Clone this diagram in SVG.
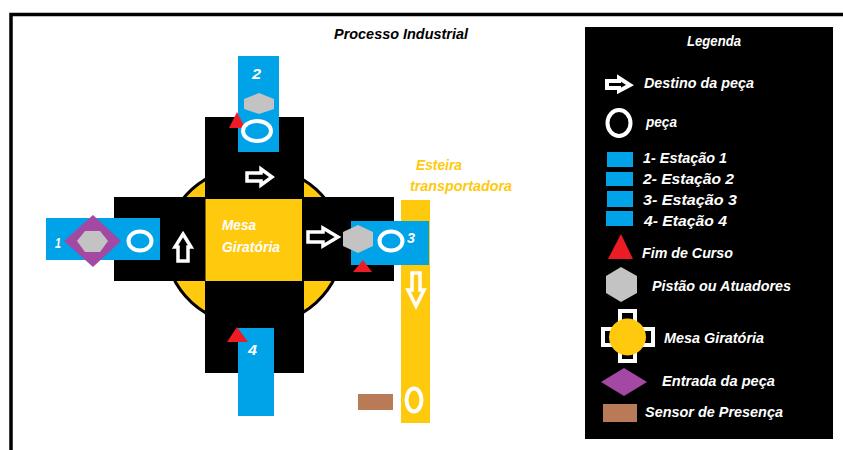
<svg xmlns="http://www.w3.org/2000/svg" width="843" height="450" viewBox="0 0 843 450">
<style>
text{font-family:"Liberation Sans Narrow","Liberation Sans",sans-serif;font-style:italic;font-weight:bold;font-size:14px;fill:#fff}
.k{fill:#000}.y{fill:#FFC90E}.b{fill:#00A2E8}.r{fill:#ED1C24}.g{fill:#C3C3C3}.p{fill:#A349A4}.n{fill:#B97A57}
.o{fill:none;stroke:#fff;stroke-width:4}
.a{fill:none;stroke:#fff;stroke-width:3.500}
.t{fill:#FFC90E;font-size:15px}
</style>
<rect width="843" height="450" fill="#fff"/>
<path d="M11 450V14.500H843" fill="none" stroke="#000" stroke-width="3.500"/>
<text id="titulo" x="334" y="39" textLength="134" lengthAdjust="spacingAndGlyphs" style="fill:#000">Processo  Industrial</text>
<g id="mesa">
<ellipse cx="254" cy="246" rx="88" ry="80" class="y" stroke="#000" stroke-width="3"/>
<rect x="205" y="117" width="99" height="256" class="k"/>
<rect x="114" y="197" width="280" height="84" class="k"/>
<rect x="205.500" y="199" width="96.500" height="82" class="y"/>
<text x="222" y="230" textLength="34" lengthAdjust="spacingAndGlyphs">Mesa</text>
<text x="222" y="252" textLength="58" lengthAdjust="spacingAndGlyphs">Giratória</text>
</g>
<g id="esteira">
<rect x="401" y="200" width="29" height="223" class="y"/>
<text class="t" x="416" y="170" textLength="46" lengthAdjust="spacingAndGlyphs">Esteira</text>
<text class="t" x="410" y="191" textLength="102" lengthAdjust="spacingAndGlyphs">transportadora</text>
<path class="a" d="M412 273H420V290H424L416 306L408 290H412Z"/>
<ellipse class="o" cx="414" cy="400" rx="7.500" ry="11.500"/>
</g>
<g id="estacao2">
<rect x="238" y="56" width="41" height="96" class="b"/>
<text x="252" y="79" textLength="9" lengthAdjust="spacingAndGlyphs">2</text>
<polygon class="g" points="259,93 274,99 274,109 259,114 244,109 244,99"/>
<polygon class="r" points="237,112 245,128 229,128"/>
<ellipse class="o" cx="257" cy="131" rx="14" ry="10"/>
</g>
<g id="estacao1">
<rect x="46" y="218" width="114" height="42" class="b"/>
<text x="55" y="248" textLength="6" lengthAdjust="spacingAndGlyphs">1</text>
<polygon class="p" points="93,215 121,241 93,267 64,241"/>
<polygon class="g" points="85,231 100,231 108,241 100,252 85,252 77,241"/>
<ellipse class="o" cx="140" cy="241" rx="11.500" ry="9.500"/>
</g>
<g id="estacao3">
<rect x="351" y="221" width="78" height="44" class="b"/>
<polygon class="g" points="358,225 373,232 373,246 358,253 343,246 343,232"/>
<polygon class="r" points="363,260 372,272 353,272"/>
<ellipse class="o" cx="391" cy="241" rx="11.500" ry="9.500"/>
<text x="407" y="243" textLength="8" lengthAdjust="spacingAndGlyphs">3</text>
</g>
<g id="estacao4">
<rect x="238" y="328" width="36" height="88" class="b"/>
<polygon class="r" points="237,327 248,342 227,342"/>
<text x="248" y="355" textLength="9" lengthAdjust="spacingAndGlyphs">4</text>
</g>
<g id="sensor"><rect x="358" y="394" width="35" height="16" class="n"/></g>
<g id="connectors">
<path class="a" d="M247 173H261V169L272 177L261 185V181H247Z"/>
<path class="a" d="M183 234L191 247H188V261H178V247H175Z"/>
<path class="a" d="M308 232H323V228L338 237L323 246V242H308Z"/>
</g>
<g id="legenda">
<rect x="585" y="27" width="248" height="412" class="k"/>
<text x="687" y="46" textLength="54" lengthAdjust="spacingAndGlyphs">Legenda</text>
<path d="M607 81H619V78L630 85L619 91V88H607Z" fill="#000" stroke="#fff" stroke-width="4"/>
<text x="644" y="88" textLength="110" lengthAdjust="spacingAndGlyphs">Destino  da  peça</text>
<ellipse class="o" cx="619" cy="123" rx="11.500" ry="13"/>
<text x="646" y="127" textLength="31" lengthAdjust="spacingAndGlyphs">peça</text>
<rect x="607" y="152" width="26" height="15" class="b"/>
<text x="643" y="163" textLength="84" lengthAdjust="spacingAndGlyphs">1- Estação  1</text>
<rect x="606" y="172" width="27" height="14" class="b"/>
<text x="643" y="184" textLength="91" lengthAdjust="spacingAndGlyphs">2- Estação  2</text>
<rect x="607" y="191" width="26" height="16" class="b"/>
<text x="643" y="205" textLength="94" lengthAdjust="spacingAndGlyphs">3- Estação  3</text>
<rect x="606" y="211" width="27" height="15" class="b"/>
<text x="644" y="226" textLength="83" lengthAdjust="spacingAndGlyphs">4- Etação  4</text>
<polygon class="r" points="621,234 633,259 608,259"/>
<text x="642" y="258" textLength="91" lengthAdjust="spacingAndGlyphs">Fim  de  Curso</text>
<polygon class="g" points="621,267 637,276 637,293 621,302 606,293 606,276"/>
<text x="652" y="291" textLength="139" lengthAdjust="spacingAndGlyphs">Pistão  ou  Atuadores</text>
<rect x="620" y="311" width="15" height="50" fill="#000" stroke="#fff" stroke-width="4"/>
<rect x="603" y="329" width="50" height="16" fill="#000" stroke="#fff" stroke-width="4"/>
<circle cx="627.500" cy="337" r="18.500" class="y"/>
<text x="664" y="343" textLength="100" lengthAdjust="spacingAndGlyphs">Mesa  Giratória</text>
<polygon class="p" points="601,382 624,368 647,382 624,396"/>
<text x="662" y="386" textLength="113" lengthAdjust="spacingAndGlyphs">Entrada  da  peça</text>
<rect x="603" y="404" width="34" height="18" class="n"/>
<text x="645" y="417" textLength="138" lengthAdjust="spacingAndGlyphs">Sensor  de  Presença</text>
</g>
</svg>
